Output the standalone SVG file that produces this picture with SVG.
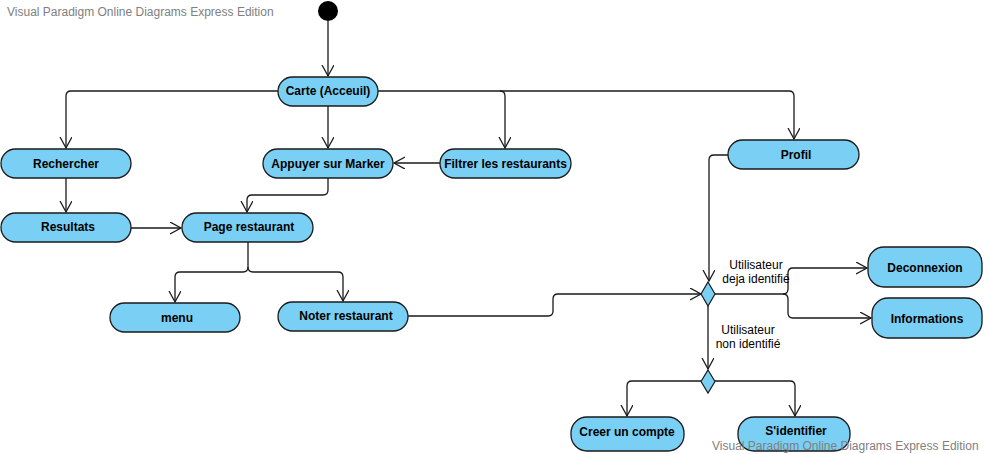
<svg xmlns="http://www.w3.org/2000/svg" width="984" height="454" viewBox="0 0 984 454">
<defs>
<style>
.node rect{fill:#7acff4;stroke:#1a1a1a;stroke-width:1.3}
.node text{font-family:"Liberation Sans",Arial,sans-serif;font-size:12px;font-weight:bold;fill:#000;text-anchor:middle}
.dia{fill:#7acff4;stroke:#1a1a1a;stroke-width:1.2}
#connectors path{fill:none;stroke:#1a1a1a;stroke-width:1.3;marker-end:url(#arr)}
.lbl{font-family:"Liberation Sans",Arial,sans-serif;font-size:12px;fill:#000;text-anchor:middle}
.wm{font-family:"Liberation Sans",Arial,sans-serif;font-size:12px;fill:#808080}
</style>
<marker id="arr" markerUnits="userSpaceOnUse" markerWidth="14" markerHeight="14" refX="11" refY="6" orient="auto">
<path d="M0,0 L11,6 L0,12" fill="none" stroke="#1a1a1a" stroke-width="1.3"/>
</marker>
</defs>
<rect width="984" height="454" fill="#fff"/>
<text class="wm" x="7" y="16">Visual Paradigm Online Diagrams Express Edition</text>

<g id="connectors">
<path d="M328 21 V76"/>
<path d="M278 91 H71 Q66 91 66 96 V148"/>
<path d="M328 106 V148"/>
<path d="M378 91 H500 Q505 91 505 96 V148"/>
<path d="M500 91 H789 Q794 91 794 96 V139"/>
<path d="M440 163 H394"/>
<path d="M66 178 V212"/>
<path d="M131 228 H181"/>
<path d="M328 178 V190 Q328 195 323 195 H252 Q247 195 247 200 V212"/>
<path d="M248 242 V267 Q248 272 243 272 H180 Q175 272 175 277 V302"/>
<path d="M248 267 Q248 272 253 272 H338 Q343 272 343 277 V301"/>
<path d="M728 155 H714 Q709 155 709 160 V281"/>
<path d="M408 316 H548 Q553 316 553 311 V299 Q553 294 558 294 H701"/>
<path d="M715 294 H783 Q788 294 788 289 V273 Q788 268 793 268 H867"/>
<path d="M783 294 Q788 294 788 299 V313 Q788 318 793 318 H871"/>
<path d="M708 306 V369"/>
<path d="M701 381 H632 Q627 381 627 386 V416"/>
<path d="M715 381 H790 Q795 381 795 386 V416"/>
</g>

<g id="start"><circle cx="328" cy="11" r="10" fill="#000"/></g>

<g id="carte" class="node"><rect x="278" y="77" width="100" height="29" rx="14.5"/><text x="328" y="95">Carte (Acceuil)</text></g>
<g id="rechercher" class="node"><rect x="1" y="149" width="130" height="29" rx="14.5"/><text x="66" y="168">Rechercher</text></g>
<g id="appuyer" class="node"><rect x="263" y="149" width="130" height="29" rx="14.5"/><text x="328" y="168">Appuyer sur Marker</text></g>
<g id="filtrer" class="node"><rect x="440" y="149" width="131" height="29" rx="14.5"/><text x="505.5" y="168">Filtrer les restaurants</text></g>
<g id="profil" class="node"><rect x="728" y="140" width="131" height="29" rx="14.5"/><text x="796" y="159">Profil</text></g>
<g id="resultats" class="node"><rect x="1" y="213" width="130" height="29" rx="14.5"/><text x="68" y="231">Resultats</text></g>
<g id="page" class="node"><rect x="182" y="213" width="131" height="29" rx="14.5"/><text x="249" y="231">Page restaurant</text></g>
<g id="menu" class="node"><rect x="110" y="303" width="130" height="29" rx="14.5"/><text x="177" y="322">menu</text></g>
<g id="noter" class="node"><rect x="278" y="302" width="130" height="29" rx="14.5"/><text x="346" y="320">Noter restaurant</text></g>
<g id="deconnexion" class="node"><rect x="868" y="247" width="114" height="40" rx="16"/><text x="925" y="272">Deconnexion</text></g>
<g id="informations" class="node"><rect x="872" y="298" width="110" height="40" rx="16"/><text x="927" y="323">Informations</text></g>
<g id="creer" class="node"><rect x="571" y="417" width="113" height="34" rx="16"/><text x="627" y="436">Creer un compte</text></g>
<g id="sidentifier" class="node"><rect x="738" y="417" width="112" height="34" rx="16"/><text x="796" y="435">S'identifier</text></g>

<g id="decision1"><path class="dia" d="M708 282 L715 294 L708 306 L701 294 Z"/></g>
<g id="decision2"><path class="dia" d="M708 370 L715 381.5 L708 393 L701 381.5 Z"/></g>

<g id="labels">
<text class="lbl" x="756" y="269">Utilisateur</text>
<text class="lbl" x="756" y="283">deja identifié</text>
<text class="lbl" x="748" y="334">Utilisateur</text>
<text class="lbl" x="748" y="348">non identifié</text>
</g>

<text class="wm" x="712" y="450">Visual Paradigm Online Diagrams Express Edition</text>
</svg>
